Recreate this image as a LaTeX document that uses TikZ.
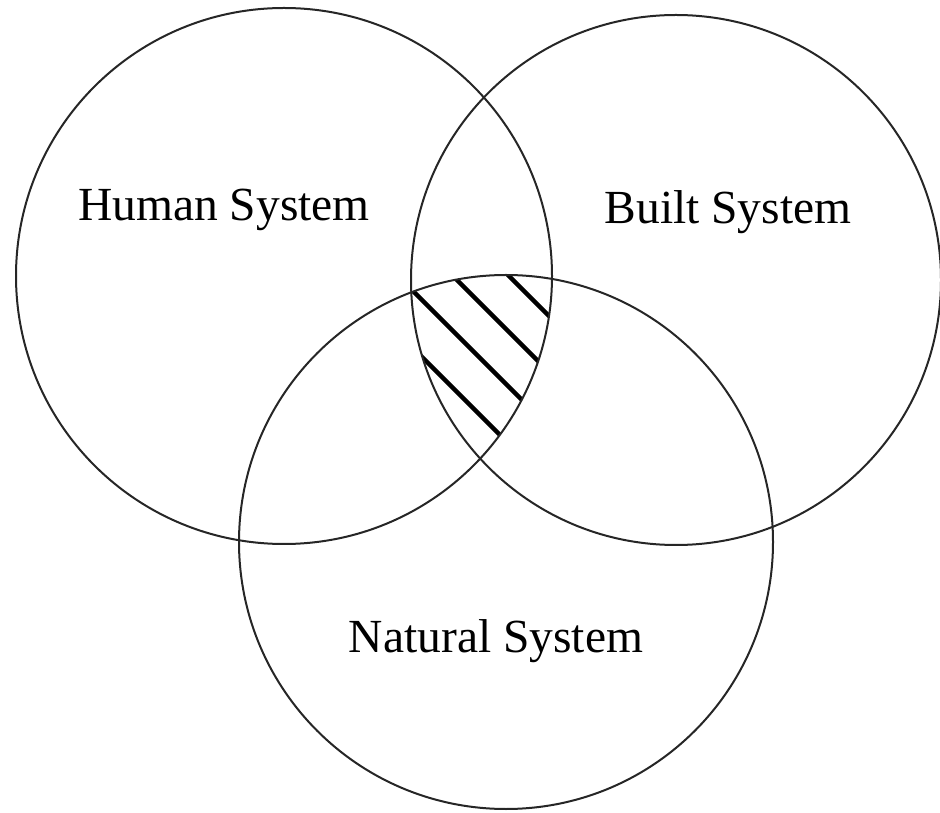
\documentclass[tikz,border=0pt]{standalone}
\usepackage{fontspec}
\setmainfont{Liberation Serif}
\usepackage{tikz}
\definecolor{ringline}{gray}{0.15}

\begin{document}
\begin{tikzpicture}[x=1pt, y=1pt]
			\def\rh{268}
			\def\rb{265}
			\def\rn{267}
			\useasboundingbox (0, 0) rectangle (940, 812);

			% hatched middle part
			\begin{scope}
				\clip (284, 536) circle[radius=\rh];
				\clip (676, 532) circle[radius=\rb];
				\clip (506, 270) circle[radius=\rn];
				\foreach \s in {877, 934, 989, 1045}
					\draw[black, line width=4.4pt] (\s-700, 700) -- (\s-200, 200);
			\end{scope}

			\draw[ringline, line width=2pt] (284, 536) circle[radius=\rh];
			\draw[ringline, line width=2pt] (676, 532) circle[radius=\rb];
			\draw[ringline, line width=2pt] (506, 270) circle[radius=\rn];

			\node[anchor=base, font=\fontsize{47.5}{52}\selectfont] (human) at (224, 591) {Human System};
			\node[anchor=base, font=\fontsize{47.5}{52}\selectfont] (built) at (728, 588) {Built System};
			\node[anchor=base, font=\fontsize{47.5}{52}\selectfont] (natural) at (496, 160) {Natural System};
		\end{tikzpicture}
\end{document}
